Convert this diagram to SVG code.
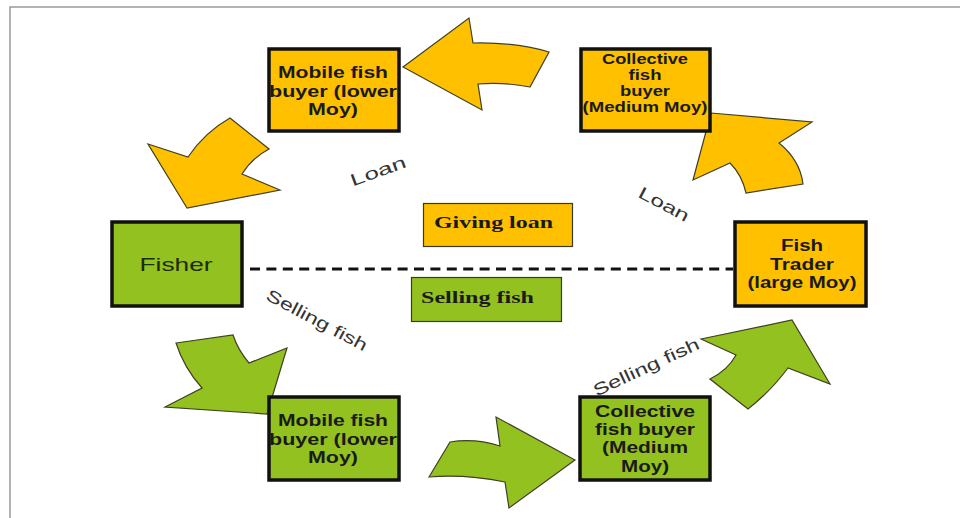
<svg xmlns="http://www.w3.org/2000/svg" width="960" height="518" viewBox="0 0 960 518">
  <style>
    .box { stroke: #111; stroke-width: 3.5; }
    .tag { stroke: #3a3a2a; stroke-width: 1.2; }
    .yel { fill: #FFC000; }
    .grn { fill: #93C11F; }
    .arrow { stroke: #3f3f25; stroke-width: 1.2; stroke-linejoin: miter; }
    .bt { font-family: "Liberation Sans", Arial, sans-serif; font-weight: bold; font-size: 16px; fill: #1a1a1a; text-anchor: middle; }
    .bt14 { font-size: 14px; }
    .st { font-family: "Liberation Serif", "Times New Roman", serif; font-weight: bold; font-size: 17px; fill: #1a1a1a; text-anchor: middle; }
    .lbl { font-family: "Liberation Sans", Arial, sans-serif; font-size: 17px; fill: #333; text-anchor: middle; }
    .fr { stroke: #9a9a9a; stroke-width: 1.5; fill: none; }
  </style>

  <rect width="960" height="518" fill="#ffffff"/>
  <!-- frame -->
  <path class="fr" d="M10,518 V7 H960"/>

  <!-- connectors: block arrows, dashed divider and flow labels -->
  <g id="connectors">
    <!-- loan flow (yellow) -->
    <path class="arrow yel" d="M403,67 L469,18 L473,43 Q515,42 549,52 L530,87 Q505,82 478,84 L482,110 Z"/>
    <path class="arrow yel" d="M187,208 L148,144 L188,157 Q205,132 230,118 L269,149 Q252,158 242,174 L280,190 Z"/>
    <path class="arrow yel" d="M711,113 L812,122 L779,143 Q800,160 803,184 L746,193 Q742,175 730,163 L693,180 Z"/>
    <!-- fish flow (green) -->
    <path class="arrow grn" d="M176,343 L233,335 Q238,350 249,363 L287,348 L267,414 L165,407 L202,388 Q184,368 176,343 Z"/>
    <path class="arrow grn" d="M575,460 L509,508 L505,482 Q465,474 429,477 L450,442 Q475,438 500,446 L496,417 Z"/>
    <path class="arrow grn" d="M701,339 L792,320 L830,384 L788,368 Q770,392 748,409 L710,379 Q728,370 736,355 Z"/>

    <line x1="250" y1="269" x2="733" y2="269" stroke="#111" stroke-width="3" stroke-dasharray="10 6.4"/>

    <text class="lbl" transform="translate(378,171) rotate(-20)" y="6" textLength="58" lengthAdjust="spacingAndGlyphs">Loan</text>
    <text class="lbl" transform="translate(664,204) rotate(28)" y="6" textLength="55" lengthAdjust="spacingAndGlyphs">Loan</text>
    <text class="lbl" transform="translate(317,320) rotate(28)" y="6" textLength="112" lengthAdjust="spacingAndGlyphs">Selling fish</text>
    <text class="lbl" transform="translate(646,367) rotate(-25)" y="6" textLength="115" lengthAdjust="spacingAndGlyphs">Selling fish</text>
  </g>

  <!-- nodes -->
  <g id="mobile-buyer-loan">
    <rect class="box yel" x="269" y="49" width="130" height="82"/>
    <text class="bt" x="333" y="78" textLength="110" lengthAdjust="spacingAndGlyphs">Mobile fish</text>
    <text class="bt" x="333" y="97" textLength="128" lengthAdjust="spacingAndGlyphs">buyer (lower</text>
    <text class="bt" x="333" y="115" textLength="50" lengthAdjust="spacingAndGlyphs">Moy)</text>
  </g>

  <g id="collective-buyer-loan">
    <rect class="box yel" x="581" y="49" width="129" height="82"/>
    <text class="bt bt14" x="645" y="64" textLength="86" lengthAdjust="spacingAndGlyphs">Collective</text>
    <text class="bt bt14" x="645" y="80" textLength="33" lengthAdjust="spacingAndGlyphs">fish</text>
    <text class="bt bt14" x="645" y="96" textLength="50" lengthAdjust="spacingAndGlyphs">buyer</text>
    <text class="bt bt14" x="645" y="112" textLength="125" lengthAdjust="spacingAndGlyphs">(Medium Moy)</text>
  </g>

  <g id="fisher">
    <rect class="box grn" x="112" y="222" width="130" height="84"/>
    <text class="lbl" style="font-size:19px;fill:#1d2a08" x="176" y="271" textLength="73" lengthAdjust="spacingAndGlyphs">Fisher</text>
  </g>

  <g id="fish-trader">
    <rect class="box yel" x="735" y="222" width="131" height="84"/>
    <text class="bt" x="802" y="251" textLength="42" lengthAdjust="spacingAndGlyphs">Fish</text>
    <text class="bt" x="802" y="270" textLength="64" lengthAdjust="spacingAndGlyphs">Trader</text>
    <text class="bt" x="802" y="288" textLength="109" lengthAdjust="spacingAndGlyphs">(large Moy)</text>
  </g>

  <g id="mobile-buyer-fish">
    <rect class="box grn" x="269" y="397" width="130" height="83"/>
    <text class="bt" x="333" y="426" textLength="110" lengthAdjust="spacingAndGlyphs">Mobile fish</text>
    <text class="bt" x="333" y="445" textLength="128" lengthAdjust="spacingAndGlyphs">buyer (lower</text>
    <text class="bt" x="333" y="463" textLength="50" lengthAdjust="spacingAndGlyphs">Moy)</text>
  </g>

  <g id="collective-buyer-fish">
    <rect class="box grn" x="580" y="397" width="130" height="83"/>
    <text class="bt" x="645" y="417" textLength="100" lengthAdjust="spacingAndGlyphs">Collective</text>
    <text class="bt" x="645" y="435" textLength="100" lengthAdjust="spacingAndGlyphs">fish buyer</text>
    <text class="bt" x="645" y="453" textLength="86" lengthAdjust="spacingAndGlyphs">(Medium</text>
    <text class="bt" x="645" y="472" textLength="48" lengthAdjust="spacingAndGlyphs">Moy)</text>
  </g>

  <g id="legend-giving-loan">
    <rect class="tag yel" x="423.5" y="203.5" width="149" height="43"/>
    <text class="st" x="493.5" y="228" textLength="119" lengthAdjust="spacingAndGlyphs">Giving loan</text>
  </g>

  <g id="legend-selling-fish">
    <rect class="tag grn" x="411.5" y="277.5" width="150" height="44"/>
    <text class="st" x="477.5" y="303" textLength="113" lengthAdjust="spacingAndGlyphs">Selling fish</text>
  </g>
</svg>
